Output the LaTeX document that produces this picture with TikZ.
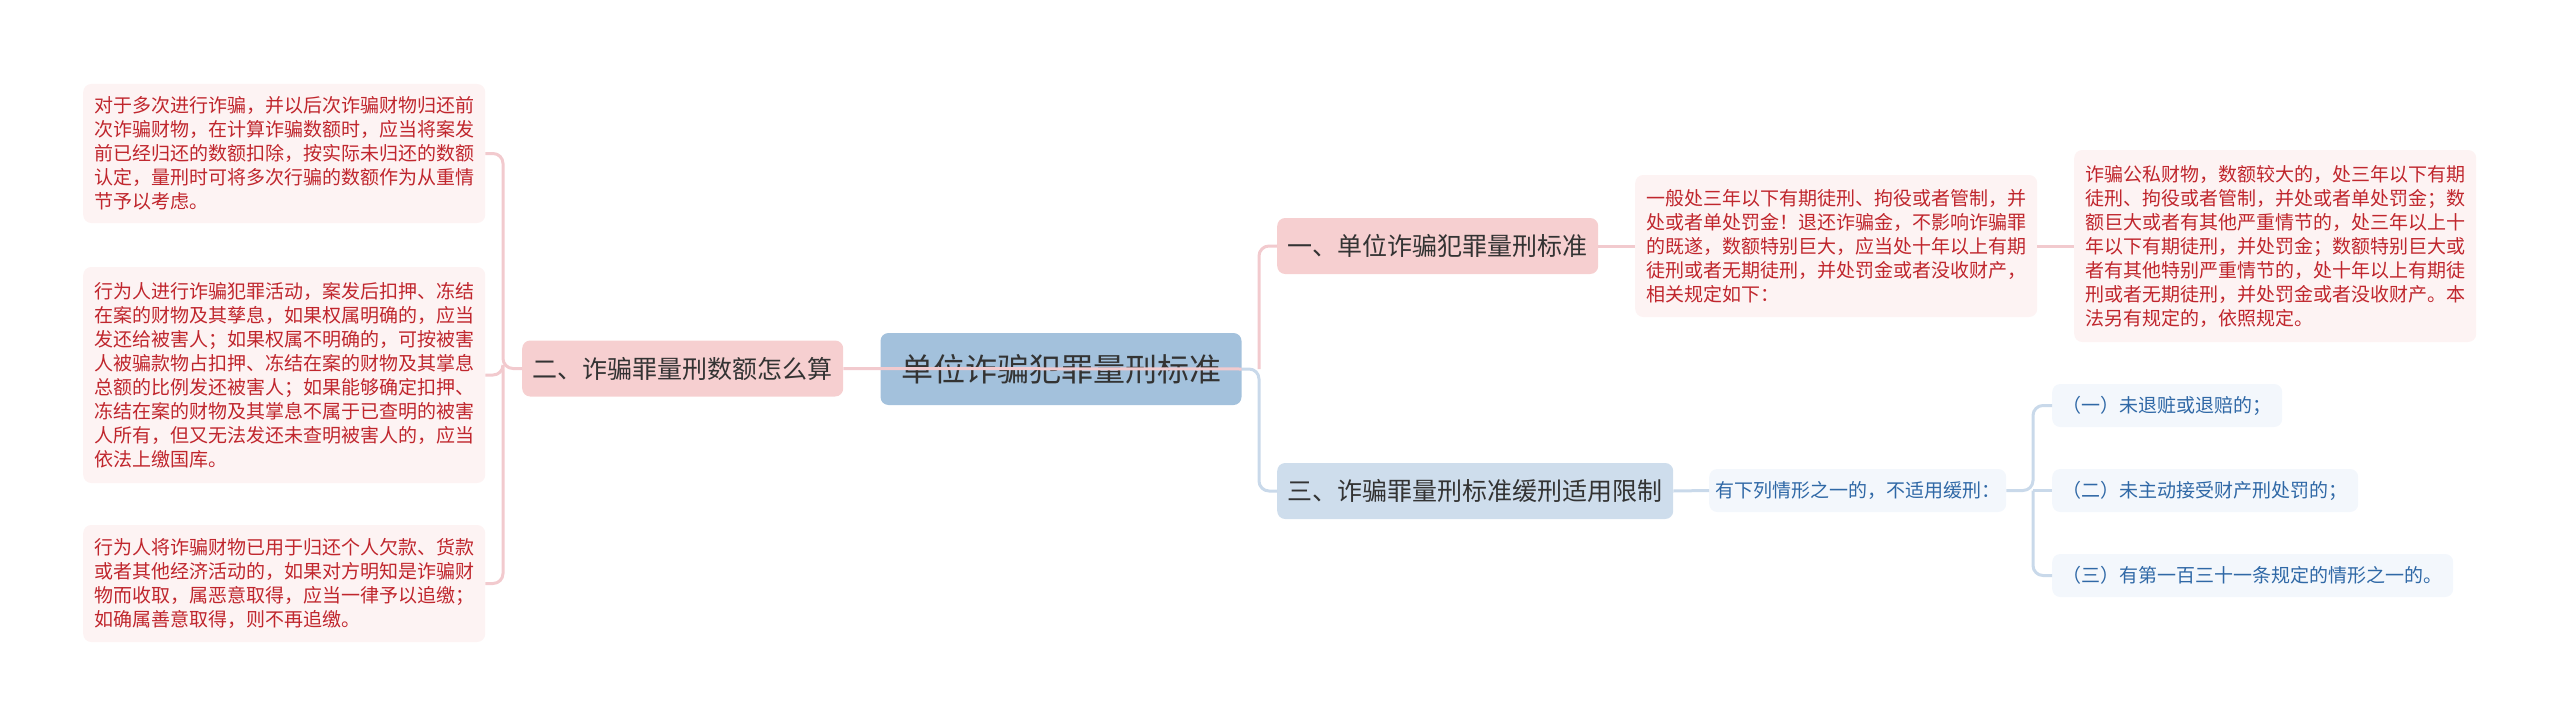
\documentclass[tikz,border=0pt]{standalone}
\usepackage{fontspec}
\setmainfont{Noto Sans CJK SC}

\definecolor{rootfill}{HTML}{A3C1DC}
\definecolor{branchpink}{HTML}{F6CFD0}
\definecolor{branchblue}{HTML}{CEDDEC}
\definecolor{leafpink}{HTML}{FDF3F3}
\definecolor{leafblue}{HTML}{F3F7FC}
\definecolor{textred}{HTML}{C0262D}
\definecolor{textblue}{HTML}{2F68A6}
\definecolor{textdark}{HTML}{333333}
\definecolor{linepink}{HTML}{F2CACE}
\definecolor{lineblue}{HTML}{C9D9EA}

\tikzset{
	rootbox/.style={fill=rootfill, rounded corners=8pt, text=textdark, inner xsep=20.5pt,
		minimum height=72pt, font=\fontsize{32pt}{36pt}\selectfont},
	branchbox/.style={rounded corners=8pt, text=textdark, inner xsep=10.5pt, anchor=west,
		minimum height=56pt, font=\fontsize{25pt}{28pt}\selectfont},
	pinkleaf/.style={fill=leafpink, rounded corners=8pt, text=textred, inner xsep=11pt, anchor=west,
		align=left, font=\fontsize{19pt}{24pt}\selectfont},
	blueleaf/.style={fill=leafblue, rounded corners=8pt, text=textblue, inner xsep=10.5pt, anchor=west,
		minimum height=43pt, font=\fontsize{19pt}{24pt}\selectfont},
	pinkline/.style={draw=linepink, line width=3pt, rounded corners=10pt},
	blueline/.style={draw=lineblue, line width=3pt, rounded corners=10pt}
}

\begin{document}
\begin{tikzpicture}[x=1pt,y=-1pt]
	\useasboundingbox ( 0, 0 ) rectangle ( 2560, 725 );

	% корень
	\node [rootbox] (root) at ( 1061, 369 ) {单位诈骗犯罪量刑标准};

	% ветвь 2 (слева)
	\node [branchbox, fill=branchpink] (br2) at ( 522, 368.5 ) {二、诈骗罪量刑数额怎么算};
	\node [pinkleaf, minimum height=139pt] (l1) at ( 83, 153.5 ) {对于多次进行诈骗，并以后次诈骗财物归还前\\次诈骗财物，在计算诈骗数额时，应当将案发\\前已经归还的数额扣除，按实际未归还的数额\\认定，量刑时可将多次行骗的数额作为从重情\\节予以考虑。};
	\node [pinkleaf, minimum height=216pt] (l2) at ( 83, 375 ) {行为人进行诈骗犯罪活动，案发后扣押、冻结\\在案的财物及其孳息，如果权属明确的，应当\\发还给被害人；如果权属不明确的，可按被害\\人被骗款物占扣押、冻结在案的财物及其掌息\\总额的比例发还被害人；如果能够确定扣押、\\冻结在案的财物及其掌息不属于已查明的被害\\人所有，但又无法发还未查明被害人的，应当\\依法上缴国库。};
	\node [pinkleaf, minimum height=117pt] (l3) at ( 83, 583.5 ) {行为人将诈骗财物已用于归还个人欠款、货款\\或者其他经济活动的，如果对方明知是诈骗财\\物而收取，属恶意取得，应当一律予以追缴；\\如确属善意取得，则不再追缴。};

	% ветвь 1 (справа, сверху)
	\node [branchbox, fill=branchpink] (br1) at ( 1277, 246 ) {一、单位诈骗犯罪量刑标准};
	\node [pinkleaf, minimum height=142pt] (m1) at ( 1635, 246 ) {一般处三年以下有期徒刑、拘役或者管制，并\\处或者单处罚金！退还诈骗金，不影响诈骗罪\\的既遂，数额特别巨大，应当处十年以上有期\\徒刑或者无期徒刑，并处罚金或者没收财产，\\相关规定如下：};
	\node [pinkleaf, minimum height=192pt] (r1) at ( 2074, 246 ) {诈骗公私财物，数额较大的，处三年以下有期\\徒刑、拘役或者管制，并处或者单处罚金；数\\额巨大或者有其他严重情节的，处三年以上十\\年以下有期徒刑，并处罚金；数额特别巨大或\\者有其他特别严重情节的，处十年以上有期徒\\刑或者无期徒刑，并处罚金或者没收财产。本\\法另有规定的，依照规定。};

	% ветвь 3 (справа, снизу)
	\node [branchbox, fill=branchblue] (br3) at ( 1277, 491 ) {三、诈骗罪量刑标准缓刑适用限制};
	\node [blueleaf, inner xsep=6pt] (m3) at ( 1709, 490.5 ) {有下列情形之一的，不适用缓刑：};
	\node [blueleaf] (c1) at ( 2052, 405.5 ) {（一）未退赃或退赔的；};
	\node [blueleaf] (c2) at ( 2052, 490.5 ) {（二）未主动接受财产刑处罚的；};
	\node [blueleaf] (c3) at ( 2052, 575.5 ) {（三）有第一百三十一条规定的情形之一的。};

	% связи
	\coordinate (lj) at ( 503, 368.5 );
	\coordinate (rj) at ( 1259, 369 );
	\coordinate (sj) at ( 2033, 490.5 );
	\draw [pinkline] (br2.east) -- (root.east);
	\draw [pinkline] (br2.west) -- (lj) |- (l1.east);
	\draw [pinkline] (lj) |- (l2.east);
	\draw [pinkline] (lj) |- (l3.east);
	\draw [blueline] (root.east) -- (rj) |- (br3.west);
	\draw [pinkline] (rj) |- (br1.west);
	\draw [pinkline] (br1.east) -- (m1.west);
	\draw [pinkline] (m1.east) -- (r1.west);
	\draw [blueline] (br3.east) -- (m3.west);
	\draw [blueline] (m3.east) -- (sj) |- (c1.west);
	\draw [blueline] (sj) -- (c2.west);
	\draw [blueline] (sj) |- (c3.west);
\end{tikzpicture}
\end{document}
